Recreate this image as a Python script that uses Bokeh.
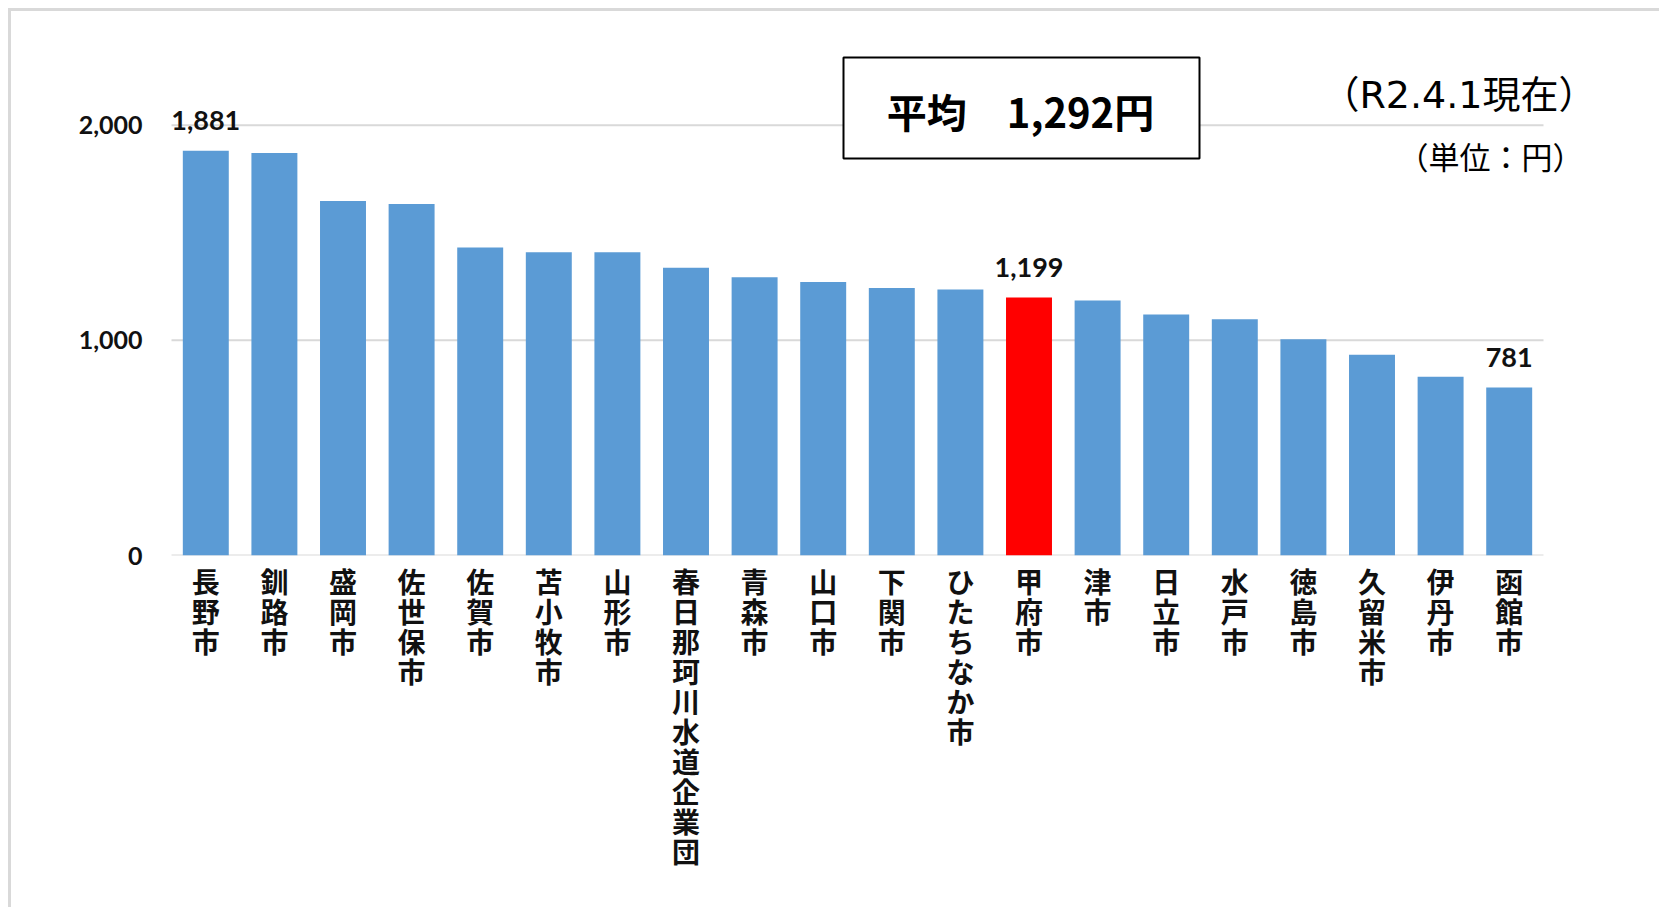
from bokeh.plotting import figure
from bokeh.models import (FactorRange, Range1d, FixedTicker, Label, ColumnDataSource,
                          NumeralTickFormatter, CategoricalAxis, CustomJSTickFormatter)
from bokeh.embed import file_html
from bokeh.resources import INLINE
from bokeh.core.properties import value

# ---- data ----
cities = ["長野市", "釧路市", "盛岡市", "佐世保市", "佐賀市", "苫小牧市", "山形市",
          "春日那珂川水道企業団", "青森市", "山口市", "下関市", "ひたちなか市", "甲府市",
          "津市", "日立市", "水戸市", "徳島市", "久留米市", "伊丹市", "函館市"]
charges = [1881, 1871, 1648, 1634, 1431, 1409, 1409, 1338, 1293, 1271, 1243, 1236,
           1199, 1185, 1120, 1098, 1005, 933, 831, 781]
highlight_city = "甲府市"
labelled_cities = ["長野市", "甲府市", "函館市"]
y_ticks = [0, 1000, 2000]
average = 1292
average_text = "平均　{:,}円".format(average)
date_note = "（R2.4.1現在）"
unit_note = "（単位：円）"

# ---- styles ----
BAR = "#5B9BD5"
HI = "#FF0000"
GRID = "#d9d9d9"
NUM_FONT = "Lato"
JP_FONT = "Noto Sans CJK JP"
NOTE_FONT = "'DejaVu Sans', 'Noto Sans CJK JP'"

# ---- layout (page pixels) ----
ORIGIN = 11                      # 8px margin + 3px frame border
W, H = 1651, 899
bars_left, bars_right = 171, 1543  # extent of the category band
frame_left, frame_right, frame_top, frame_bottom = 114, 1600, 20, 555
px_per_unit = 0.21515
pitch = (bars_right - bars_left) / len(cities)
pad = (bars_left - frame_left) / pitch
y_end = (frame_bottom - frame_top) / px_per_unit


def dx(px):
    return (px - bars_left) / pitch


def dy(py):
    return (frame_bottom - py) / px_per_unit


p = figure(x_range=FactorRange(*cities, range_padding=pad, range_padding_units="absolute"),
           y_range=Range1d(0, y_end),
           width=W, height=H, output_backend="svg", toolbar_location=None,
           min_border_left=frame_left - ORIGIN,
           min_border_right=W - (frame_right - ORIGIN),
           min_border_top=frame_top - ORIGIN,
           min_border_bottom=H - (frame_bottom - ORIGIN))
p.styles = {"margin-left": "8px", "margin-top": "8px",
            "border-top": "3px solid #d9d9d9", "border-left": "3px solid #d9d9d9"}
p.outline_line_color = None
p.background_fill_color = "white"
p.border_fill_color = "white"

# horizontal grid lines (0 line doubles as the category axis line)
n = len(cities)
p.segment(x0=[0] * len(y_ticks), x1=[n] * len(y_ticks), y0=y_ticks, y1=y_ticks,
          line_color=GRID, line_width=2)

colors = [HI if c == highlight_city else BAR for c in cities]
src = ColumnDataSource(dict(city=cities, charge=charges, color=colors))
p.vbar(x="city", top="charge", width=0.67, source=src, fill_color="color", line_color=None)

lab_src = ColumnDataSource(dict(
    city=[c for c in cities if c in labelled_cities],
    charge=[v for c, v in zip(cities, charges) if c in labelled_cities],
    text=["{:,}".format(v) for c, v in zip(cities, charges) if c in labelled_cities]))
p.text(x="city", y="charge", text="text", source=lab_src, y_offset=-30,
       text_align="center", text_baseline="alphabetic",
       text_font=value(NUM_FONT), text_font_style="bold", text_font_size="27px",
       text_color="#111111")

# average box
p.quad(left=dx(843), right=dx(1199), top=dy(57), bottom=dy(158),
       fill_color="white", line_color="black", line_width=2)
p.add_layout(Label(x=dx(1020), y=dy(110), text=average_text, text_align="center",
                   text_baseline="middle", text_font=JP_FONT, text_font_style="bold",
                   text_font_size="40px", text_color="black"))

# notes
p.add_layout(Label(x=dx(1596), y=dy(94), text=date_note, text_align="right",
                   text_baseline="middle", text_font=NOTE_FONT,
                   text_font_size="38px", text_color="black"))
p.add_layout(Label(x=dx(1583), y=dy(155), text=unit_note, text_align="right",
                   text_baseline="middle", text_font=JP_FONT,
                   text_font_size="31px", text_color="black"))

p.xgrid.grid_line_color = None
p.ygrid.grid_line_color = None

# y axis
p.yaxis.ticker = FixedTicker(ticks=y_ticks)
p.yaxis.formatter = NumeralTickFormatter(format="0,0")
p.yaxis.axis_line_color = None
p.yaxis.major_tick_line_color = None
p.yaxis.minor_tick_line_color = None
p.yaxis.major_label_standoff = frame_left - 148
p.yaxis.major_label_text_font = NUM_FONT
p.yaxis.major_label_text_font_style = "bold"
p.yaxis.major_label_text_font_size = "25px"
p.yaxis.major_label_text_color = "#111111"

# x axis: one axis row per character, giving upright vertical writing
max_len = max(len(c) for c in cities)
for k in range(max_len):
    if k == 0:
        ax = p.xaxis[0]
        ax.major_label_standoff = 5
    else:
        ax = CategoricalAxis()
        ax.major_label_standoff = -13
        p.add_layout(ax, "below")
    ax.axis_line_color = None
    ax.major_tick_line_color = None
    ax.minor_tick_line_color = None
    ax.major_tick_in = 0
    ax.major_tick_out = 0
    ax.major_label_orientation = "horizontal"
    ax.formatter = CustomJSTickFormatter(
        args=dict(k=k),
        code="const s = Array.from(String(tick)); return k < s.length ? s[k] : '';")
    ax.major_label_text_font = JP_FONT
    ax.major_label_text_font_style = "bold"
    ax.major_label_text_font_size = "28px"
    ax.major_label_text_color = "#111111"

open("out.html", "w").write(file_html(p, INLINE))
